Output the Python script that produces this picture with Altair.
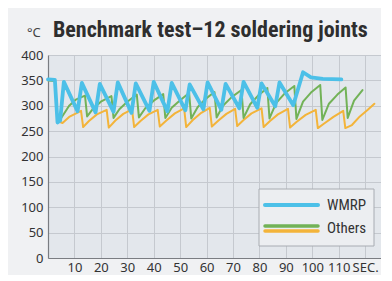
import altair as alt
import pandas as pd

# ---- data ----
wmrp_t = [0, 2.6, 3.6, 4.6, 6.0, 11.2, 12.8, 18.0, 19.6, 24.8, 26.4, 31.6, 33.2, 38.4, 40.0,
          45.2, 46.8, 52.0, 53.6, 58.8, 60.4, 65.6, 67.2, 72.4, 74.0, 79.2, 80.8, 86.0, 87.6,
          92.8, 96.5, 99.5, 104.0, 111.0]
wmrp_v = [352, 351, 267, 271, 347, 289, 345, 287, 343, 288, 346, 286, 344, 290, 347,
          289, 345, 291, 342, 293, 346, 292, 343, 295, 347, 296, 344, 299, 346,
          301, 366, 356, 353, 352]

orange_t = [0, 2.6, 3.6, 5.5, 8, 12.5, 13.3, 15.5, 18.5, 22.2, 23, 25.5, 28.5, 31.8, 32.6, 35, 38,
            41.5, 42.3, 44.8, 48, 51.5, 52.3, 54.8, 58, 61.2, 62, 64.5, 67.5, 70.8, 71.6, 74, 77,
            80.8, 81.6, 84, 87, 90.8, 91.6, 94, 97.5, 101.3, 102.1, 104.5, 108, 111.7, 112.5,
            115, 118, 121, 123.5]
orange_v = [350, 349, 270, 266, 278, 290, 258, 270, 283, 292, 257, 271, 284, 293, 258, 270, 283,
            292, 259, 271, 285, 295, 258, 272, 286, 296, 259, 271, 284, 294, 260, 272, 285,
            295, 258, 270, 283, 294, 257, 268, 282, 292, 256, 265, 278, 290, 256,
            262, 279, 292, 304]

green_t = [0, 2.6, 3.6, 5, 8, 10.5, 14, 14.8, 17, 20, 24, 24.8, 27, 30, 33.6, 34.4, 36.8, 40,
           43.6, 44.4, 46.8, 50, 53.4, 54.2, 56.6, 59.5, 63, 63.8, 66.2, 69.5, 73.2, 74, 76.5,
           79.5, 83, 83.8, 86.3, 89.5, 93.2, 94, 96.5, 99.5, 103, 103.8, 106.3, 109.5, 112.6,
           113.4, 115.8, 119]
green_v = [350, 349, 272, 276, 300, 312, 320, 279, 294, 308, 319, 276, 293, 308, 322, 277, 295, 310,
           323, 276, 296, 311, 325, 275, 297, 313, 327, 277, 300, 317, 331, 276, 303,
           320, 335, 275, 305, 324, 339, 274, 308, 326, 341, 272, 304, 322, 336,
           276, 310, 331]

x_ticks = [10, 20, 30, 40, 50, 60, 70, 80, 90, 100, 110, 120]
y_ticks = [0, 50, 100, 150, 200, 250, 300, 350, 400]

BLUE = "#4cc0e8"
GREEN = "#72b257"
ORANGE = "#f3b43a"
NARROW = "Roboto Condensed, Liberation Sans Narrow, Roboto"

x_enc = alt.X("t:Q", scale=alt.Scale(domain=[0, 126], nice=False, zero=False),
              axis=alt.Axis(values=x_ticks, title=None, grid=True,
                            labelExpr="datum.value == 120 ? 'SEC.' : datum.label",
                            labelPadding=3, ticks=False, labelFlush=False))
y_enc = alt.Y("v:Q", scale=alt.Scale(domain=[0, 400], nice=False),
              axis=alt.Axis(values=y_ticks, title=None, grid=True, ticks=False,
                            labelPadding=5))


def series(t, v, color, width):
    df = pd.DataFrame({"t": t, "v": v})
    return alt.Chart(df).mark_line(color=color, strokeWidth=width, strokeJoin="round",
                                   strokeCap="round").encode(x=x_enc, y=y_enc)


one = pd.DataFrame({"a": [0]})
base = alt.Chart(one)

legend_box = base.mark_rect(fill="#eceef1", stroke="#a8acb2", strokeWidth=1).encode(
    x=alt.value(211), x2=alt.value(326), y=alt.value(134), y2=alt.value(191))
leg_blue = base.mark_rule(color=BLUE, strokeWidth=4, strokeCap="round").encode(
    x=alt.value(217), x2=alt.value(270), y=alt.value(150))
leg_green = base.mark_rule(color=GREEN, strokeWidth=3.5, strokeCap="round").encode(
    x=alt.value(217), x2=alt.value(270), y=alt.value(171))
leg_orange = base.mark_rule(color=ORANGE, strokeWidth=3.5, strokeCap="round").encode(
    x=alt.value(217), x2=alt.value(270), y=alt.value(176))
leg_t1 = base.mark_text(text="WMRP", align="left", baseline="middle", fontSize=15,
                        font=NARROW, color="#333333").encode(x=alt.value(279), y=alt.value(150))
leg_t2 = base.mark_text(text="Others", align="left", baseline="middle", fontSize=15,
                        font=NARROW, color="#333333").encode(x=alt.value(279), y=alt.value(173))

unit = base.mark_text(text="°C", align="left", baseline="alphabetic", fontSize=13,
                      font="Noto Sans", color="#444444").encode(
    x=alt.value(-21), y=alt.value(-18))
title = base.mark_text(text="Benchmark test–12 soldering joints", align="left",
                       baseline="alphabetic", fontSize=22, fontWeight="bold",
                       font=NARROW, color="#2e2e2e").encode(x=alt.value(5), y=alt.value(-18))

chart = alt.layer(
    series(orange_t, orange_v, ORANGE, 2),
    series(green_t, green_v, GREEN, 2),
    series(wmrp_t, wmrp_v, BLUE, 3.8),
    legend_box, leg_blue, leg_green, leg_orange, leg_t1, leg_t2,
    unit, title,
).properties(
    width=333, height=203,
    autosize=alt.AutoSizeParams(type="none"),
    padding={"left": 40, "top": 47, "right": 0, "bottom": 17},
    background="#f0f1f3",
).configure_view(
    stroke=None, fill="#e3e7ec"
).configure_axis(
    domainColor="#7a7d82", domainWidth=1.2, gridColor="#c5c9cf", gridWidth=1,
    labelColor="#333333", labelFont="Noto Sans", labelFontSize=13,
)

chart.save("out.html", embed_options={"renderer": "svg", "actions": False})
